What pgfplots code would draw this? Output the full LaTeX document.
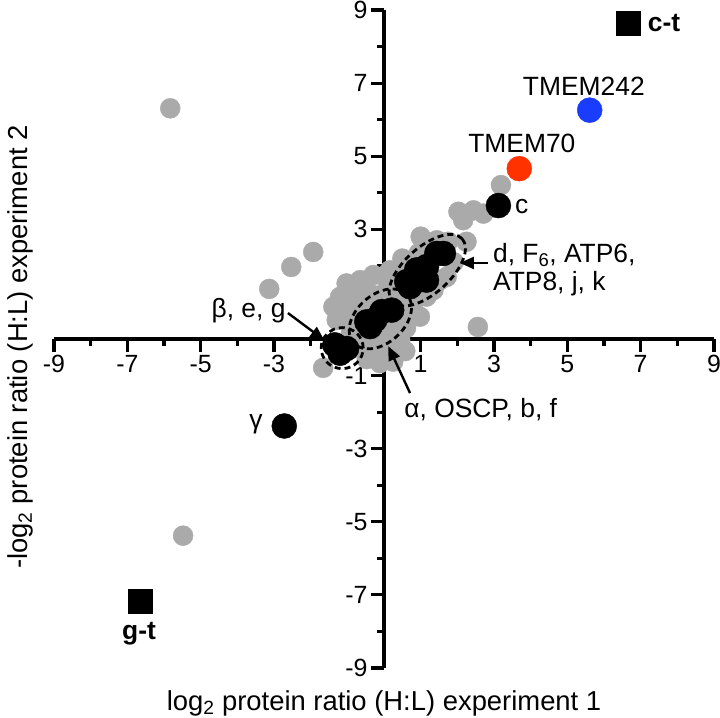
\documentclass[border=0pt]{standalone}
\usepackage{fontspec}
\setmainfont{Liberation Sans}
\usepackage{pgfplots}
\pgfplotsset{compat=1.18}
\usetikzlibrary{calc,arrows.meta}
\definecolor{ptgray}{RGB}{170,170,170}
\definecolor{ptblue}{RGB}{25,60,255}
\definecolor{ptred}{RGB}{255,50,0}
\begin{document}
\begin{tikzpicture}
\begin{axis}[name=ax, scale only axis, width=660bp, height=658bp,
 xmin=-9, xmax=9, ymin=-9, ymax=9,
 axis lines=middle, axis line style={-, line width=3.2bp},
 xtick={-9,-7,...,9}, ytick={-9,-7,...,9},
 xticklabels={-9,-7,-5,-3,{},1,3,5,7,9},
 yticklabels={-9,-7,-5,-3,-1,{},3,5,7,9},
 minor xtick={-8,-6,...,8}, minor ytick={-8,-6,...,8},
 tick align=outside, major tick length=13bp, minor tick length=7bp,
 major tick style={line width=3.2bp, black},
 minor tick style={line width=3.2bp, black},
 every tick label/.append style={font=\fontsize{25}{30}\selectfont},
 clip=false,
]
% gray proteins
\addplot[only marks, mark=*, mark size=10bp, color=ptgray] coordinates {
(-5.83,6.31) (-5.48,-5.38) (-3.13,1.37) (-2.53,1.97) (-1.93,2.38) (-1.34,0.85)
(-1.66,-0.79) (2.56,0.33) (3.19,4.21)
(2.03,3.48) (2.44,3.52) (2.71,3.43) (2.16,3.25) (1.75,2.66) (2.25,2.66) (1.44,2.7)
(0.44,1.89) (0.25,1.52) (1.35,1.34) (1.53,1.61) (1.16,1.16) (1.71,1.7) (0.62,1.88) (0.8,1.25)
(-1.02,1.52) (-0.65,1.61) (-0.29,1.75) (0.07,1.65) (0.16,1.88)
(-1.2,1.15) (-0.84,1.25) (-0.47,1.34) (-1.38,0.88) (-1.02,0.88) (-1.29,0.52) (-0.93,0.43)
(0.44,1.15) (0.71,0.97) (0.53,0.61) (0.8,0.79) (0.98,0.61) (0.35,0.25) (0.44,-0.03)
(0.16,-0.3) (-0.2,-0.48) (0.25,-0.62) (-0.11,-0.66) (-0.47,-0.55) (-0.56,-0.3)
(-0.38,-0.03) (-0.2,-0.3) (0.07,0.06) (-0.65,0.06) (-0.75,0.61) (0.58,-0.33)
(-1.1,1.2) (-0.9,0.2) (-0.5,1.0) (-0.1,1.2) (0.3,1.0) (0.0,-0.5) (0.3,0.6)
(-0.7,0.9) (-0.2,0.9) (0.1,0.3) (-1.15,0.7) (0.6,0.3) (0.2,-0.1) (-0.8,-0.2)
(0.95,2.35) (1.2,2.55) (0.5,2.2) (1.9,2.1) (1.0,2.8)
};
% black subunits
\addplot[only marks, mark=*, mark size=12.5bp, color=black] coordinates {
(3.12,3.65) (-2.72,-2.38)
(-1.34,-0.16) (-1.02,-0.26) (-1.2,-0.39)
(-0.47,0.47) (-0.25,0.52) (0.21,0.79) (-0.06,0.75) (-0.38,0.34)
(0.62,1.57) (0.89,1.89) (1.16,1.98) (1.44,2.34) (1.62,2.34) (1.16,1.61) (0.71,1.43)
};
\addplot[only marks, mark=*, mark size=12.5bp, color=ptblue] coordinates {(5.61,6.26)};
\addplot[only marks, mark=*, mark size=12.5bp, color=ptred] coordinates {(3.69,4.66)};
\addplot[only marks, mark=square*, mark size=12bp, color=black] coordinates {(6.66,8.65) (-6.65,-7.17)};
% anchor points for annotations
\coordinate (e1) at (axis cs:-1.14,-0.25);
\coordinate (e2) at (axis cs:-0.1,0.55);
\coordinate (e3) at (axis cs:1.18,1.88);
\coordinate (a1s) at (axis cs:-2.62,0.71); \coordinate (a1e) at (axis cs:-1.63,-0.03);
\coordinate (a2s) at (axis cs:0.71,-1.48); \coordinate (a2e) at (axis cs:0.12,-0.2);
\coordinate (a3s) at (axis cs:2.83,2.08);  \coordinate (a3e) at (axis cs:2.07,2.08);
% labels
\tikzset{lab/.style={font=\fontsize{26.5}{30}\selectfont, inner sep=0pt}}
\node[lab, anchor=east] at (axis cs:-2.68,0.77) {β, e, g};
\node[lab, anchor=west] at (axis cs:0.55,-1.94) {α, OSCP, b, f};
\node[lab, anchor=base west] at (axis cs:2.97,2.1) {d, F\textsubscript{6}, ATP6,};
\node[lab, anchor=base west] at (axis cs:2.97,1.34) {ATP8, j, k};
\node[lab, anchor=west] at (axis cs:3.57,3.62) {c};
\node[lab, anchor=base] at (axis cs:3.76,5.11) {TMEM70};
\node[lab, anchor=base] at (axis cs:5.45,6.67) {TMEM242};
\node[lab, anchor=base west, font=\fontsize{26.5}{30}\selectfont\bfseries] at (axis cs:7.19,8.42) {c-t};
\node[lab] at (axis cs:-3.49,-2.32) {γ};
\node[lab, anchor=base, font=\fontsize{26.5}{30}\selectfont\bfseries] at (axis cs:-6.68,-8.22) {g-t};
\end{axis}
% dashed ellipses and arrows on top of the markers
\tikzset{ell/.style={line width=2.8bp, dash pattern=on 6bp off 4bp}}
\draw[ell] (e1) ellipse [x radius=21bp, y radius=20.5bp];
\draw[ell] (e2) ellipse [x radius=36bp, y radius=24bp, rotate=42];
\draw[ell] (e3) ellipse [x radius=47bp, y radius=23bp, rotate=42];
\tikzset{arr/.style={line width=2.4bp, -{Triangle[length=14bp,width=12bp]}}}
\draw[arr] (a1s) -- (a1e);
\draw[arr] (a2s) -- (a2e);
\draw[arr] (a3s) -- (a3e);
\node[font=\fontsize{27.5}{32}\selectfont] at ($(ax.south)+(0,-35bp)$) {log\textsubscript{2} protein ratio (H:L) experiment 1};
\node[font=\fontsize{27.5}{32}\selectfont, rotate=90] at ($(ax.west)+(-34bp,-8bp)$) {-log\textsubscript{2} protein ratio (H:L) experiment 2};
\pgfresetboundingbox
\path ($(ax.south west)+(-54bp,-50bp)$) rectangle ($(ax.north east)+(6bp,10bp)$);
\end{tikzpicture}
\end{document}
